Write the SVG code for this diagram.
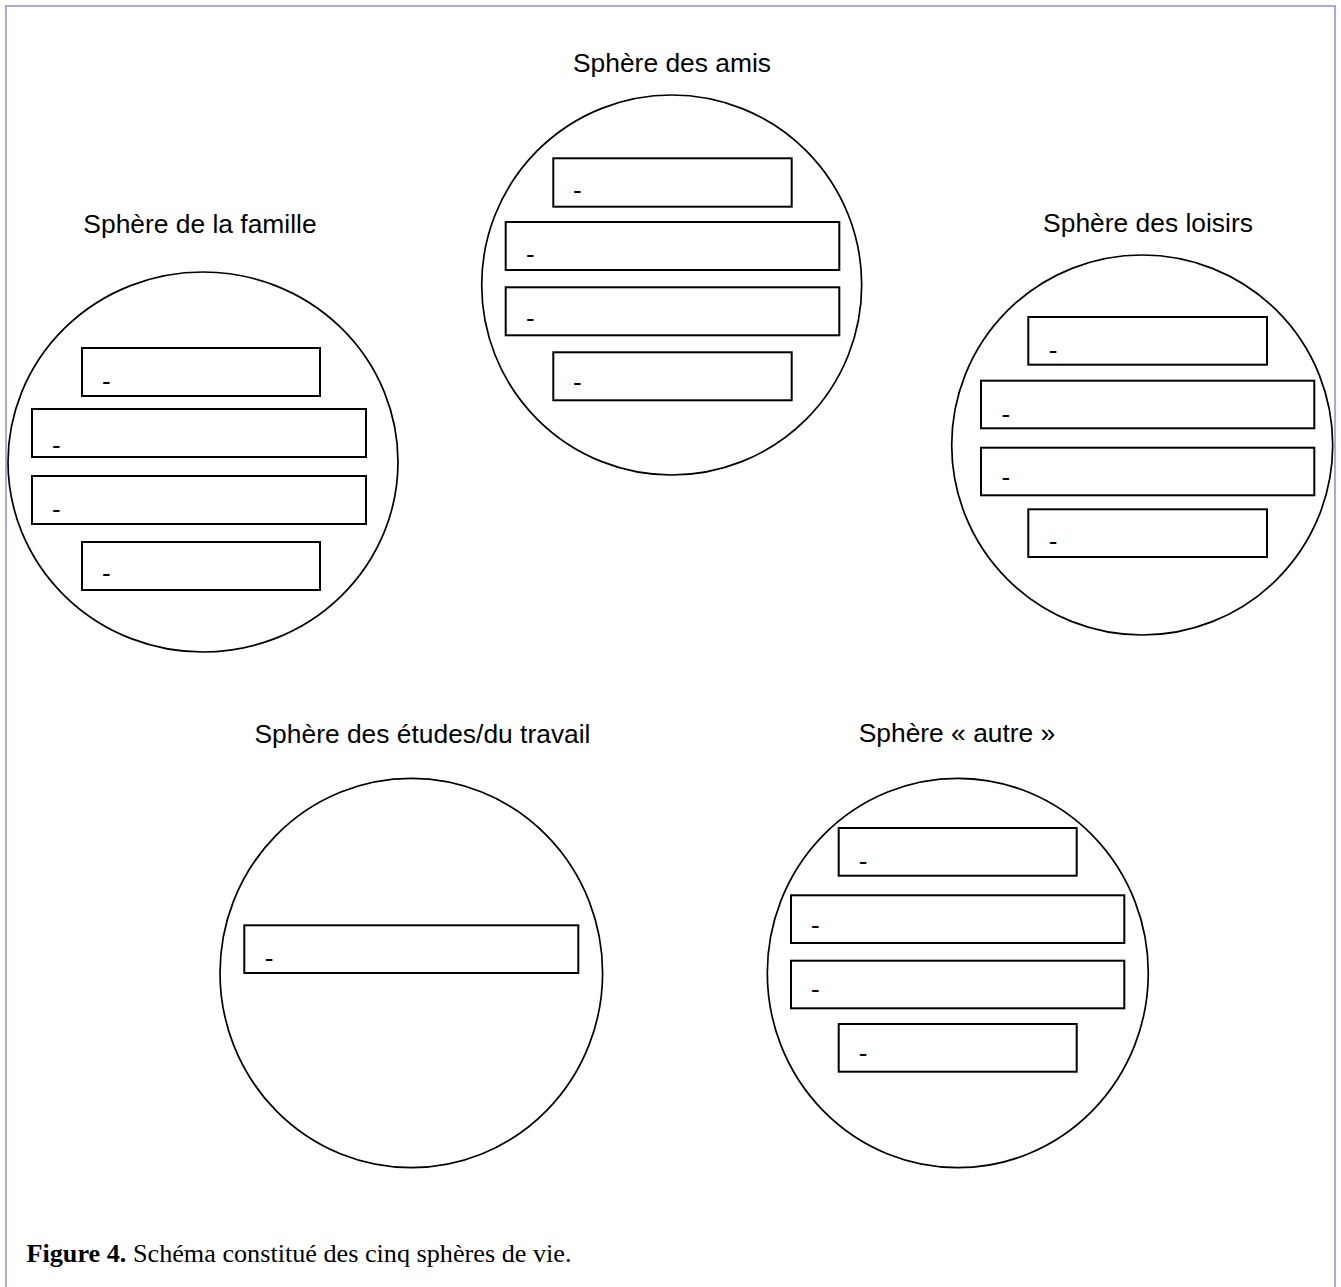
<svg xmlns="http://www.w3.org/2000/svg" width="1341" height="1287" viewBox="0 0 1341 1287">
<style>
.frame{fill:none;stroke:#a9a9d6;stroke-width:2}
.sph{fill:#fff;stroke:#000;stroke-width:1.7}
.box{fill:#fff;stroke:#000;stroke-width:2}
.title{font-family:"Liberation Sans",Arial,sans-serif;font-size:26.4px;fill:#000;text-anchor:middle}
.dash{font-family:"Liberation Sans",Arial,sans-serif;font-size:26px;fill:#000}
.cap{font-family:"Liberation Serif","Times New Roman",serif;font-size:26.2px;fill:#000}
</style>
<rect width="1341" height="1287" fill="#fff"/>
<rect class="frame" x="6" y="6" width="1329" height="1300"/>

<g id="famille">
<text class="title" x="200" y="232.5">Sphère de la famille</text>
<ellipse class="sph" cx="203" cy="462" rx="195" ry="190"/>
<rect class="box" x="82" y="348" width="238" height="48"/>
<rect class="box" x="32" y="409" width="334" height="48"/>
<rect class="box" x="32" y="476" width="334" height="48"/>
<rect class="box" x="82" y="542" width="238" height="48"/>
<text class="dash" x="102.1" y="389.8">-</text>
<text class="dash" x="52.1" y="453.8">-</text>
<text class="dash" x="52.1" y="518.1">-</text>
<text class="dash" x="102.1" y="582.4">-</text>
</g>

<g id="amis">
<text class="title" x="672" y="71.7">Sphère des amis</text>
<ellipse class="sph" cx="671.7" cy="285" rx="190" ry="190"/>
<rect class="box" x="553.3" y="158.3" width="238.4" height="48.4"/>
<rect class="box" x="505.7" y="222" width="333.6" height="48"/>
<rect class="box" x="505.7" y="287.3" width="333.6" height="48"/>
<rect class="box" x="553.3" y="352.3" width="238.4" height="48"/>
<text class="dash" x="573.1" y="198.8">-</text>
<text class="dash" x="526.1" y="263.1">-</text>
<text class="dash" x="526.1" y="327.1">-</text>
<text class="dash" x="573.1" y="391.1">-</text>
</g>

<g id="loisirs">
<text class="title" x="1148" y="231.7">Sphère des loisirs</text>
<ellipse class="sph" cx="1142.2" cy="445" rx="190.5" ry="190"/>
<rect class="box" x="1028.3" y="317" width="238.7" height="47.7"/>
<rect class="box" x="981" y="380.7" width="333.3" height="47.6"/>
<rect class="box" x="981" y="447.7" width="333.3" height="47.6"/>
<rect class="box" x="1028.3" y="509.3" width="238.7" height="47.7"/>
<text class="dash" x="1048.8" y="358.8">-</text>
<text class="dash" x="1001.5" y="423.1">-</text>
<text class="dash" x="1001.5" y="486.4">-</text>
<text class="dash" x="1048.8" y="550.4">-</text>
</g>

<g id="etudes">
<text class="title" x="422.5" y="743">Sphère des études/du travail</text>
<ellipse class="sph" cx="411.3" cy="973" rx="191.3" ry="194.7"/>
<rect class="box" x="244.3" y="925.3" width="334" height="47.7"/>
<text class="dash" x="264.8" y="967.1">-</text>
</g>

<g id="autre">
<text class="title" x="957" y="741.7">Sphère « autre »</text>
<ellipse class="sph" cx="957.8" cy="973" rx="190.5" ry="194.7"/>
<rect class="box" x="838.7" y="828" width="238" height="47.7"/>
<rect class="box" x="791" y="895.3" width="333.3" height="47.7"/>
<rect class="box" x="791" y="960.7" width="333.3" height="47.6"/>
<rect class="box" x="838.7" y="1024" width="238" height="47.7"/>
<text class="dash" x="858.8" y="870.4">-</text>
<text class="dash" x="811.1" y="934.4">-</text>
<text class="dash" x="811.1" y="998.1">-</text>
<text class="dash" x="858.8" y="1062.1">-</text>
</g>

<g id="connectors"></g>

<text class="cap" x="26.5" y="1261.5"><tspan font-weight="bold">Figure 4.</tspan> Schéma constitué des cinq sphères de vie.</text>
</svg>
